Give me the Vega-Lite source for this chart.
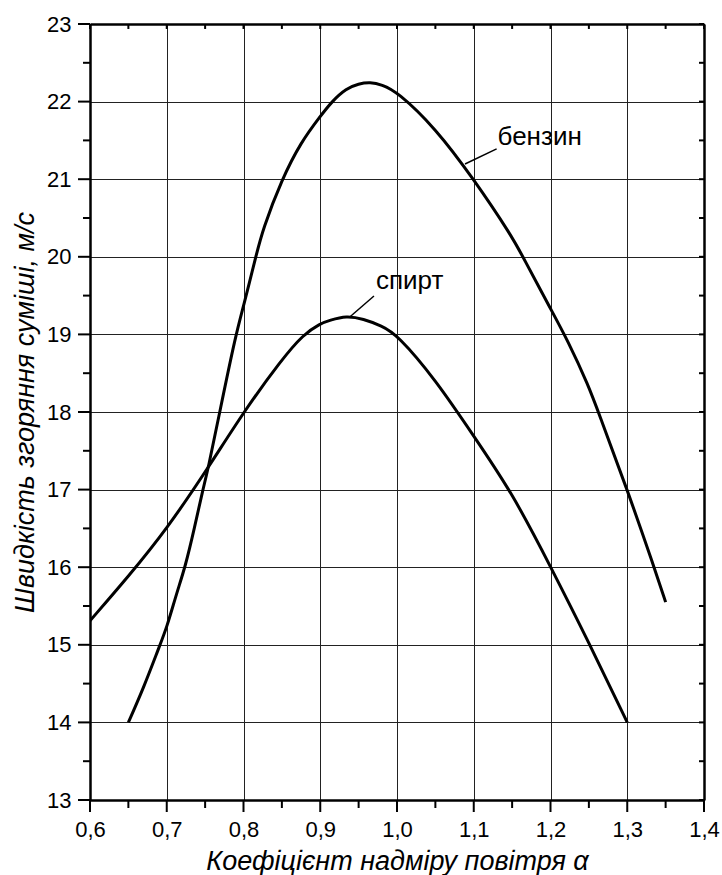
{
  "$schema": "https://vega.github.io/schema/vega-lite/v6.json",
  "width": 614,
  "height": 776,
  "autosize": {"type": "none"},
  "padding": {"left": 90, "top": 24, "right": 18, "bottom": 75},
  "background": "white",
  "config": {
    "font": "Liberation Sans",
    "view": {"stroke": null},
    "axis": {"labelFont": "Liberation Sans", "titleFont": "Liberation Sans"}
  },
  "datasets": {
    "curves": [
      {"fuel": "бензин", "alpha": 0.65, "v": 14.0},
      {"fuel": "бензин", "alpha": 0.67, "v": 14.45},
      {"fuel": "бензин", "alpha": 0.69, "v": 14.97},
      {"fuel": "бензин", "alpha": 0.70, "v": 15.22},
      {"fuel": "бензин", "alpha": 0.713, "v": 15.67},
      {"fuel": "бензин", "alpha": 0.724, "v": 16.0},
      {"fuel": "бензин", "alpha": 0.736, "v": 16.5},
      {"fuel": "бензин", "alpha": 0.747, "v": 17.0},
      {"fuel": "бензин", "alpha": 0.754, "v": 17.27},
      {"fuel": "бензин", "alpha": 0.769, "v": 18.0},
      {"fuel": "бензин", "alpha": 0.79, "v": 19.0},
      {"fuel": "бензин", "alpha": 0.80, "v": 19.36},
      {"fuel": "бензин", "alpha": 0.816, "v": 20.0},
      {"fuel": "бензин", "alpha": 0.825, "v": 20.35},
      {"fuel": "бензин", "alpha": 0.85, "v": 21.0},
      {"fuel": "бензин", "alpha": 0.875, "v": 21.48},
      {"fuel": "бензин", "alpha": 0.90, "v": 21.81},
      {"fuel": "бензин", "alpha": 0.915, "v": 22.0},
      {"fuel": "бензин", "alpha": 0.934, "v": 22.17},
      {"fuel": "бензин", "alpha": 0.95, "v": 22.23},
      {"fuel": "бензин", "alpha": 0.965, "v": 22.25},
      {"fuel": "бензин", "alpha": 0.98, "v": 22.22},
      {"fuel": "бензин", "alpha": 1.0, "v": 22.13},
      {"fuel": "бензин", "alpha": 1.05, "v": 21.66},
      {"fuel": "бензин", "alpha": 1.10, "v": 21.0},
      {"fuel": "бензин", "alpha": 1.15, "v": 20.26},
      {"fuel": "бензин", "alpha": 1.164, "v": 20.0},
      {"fuel": "бензин", "alpha": 1.20, "v": 19.33},
      {"fuel": "бензин", "alpha": 1.222, "v": 18.93},
      {"fuel": "бензин", "alpha": 1.25, "v": 18.33},
      {"fuel": "бензин", "alpha": 1.263, "v": 17.98},
      {"fuel": "бензин", "alpha": 1.30, "v": 17.0},
      {"fuel": "бензин", "alpha": 1.335, "v": 16.0},
      {"fuel": "бензин", "alpha": 1.35, "v": 15.55},
      {"fuel": "спирт", "alpha": 0.60, "v": 15.31},
      {"fuel": "спирт", "alpha": 0.65, "v": 15.88},
      {"fuel": "спирт", "alpha": 0.70, "v": 16.49},
      {"fuel": "спирт", "alpha": 0.754, "v": 17.28},
      {"fuel": "спирт", "alpha": 0.80, "v": 18.0},
      {"fuel": "спирт", "alpha": 0.85, "v": 18.68},
      {"fuel": "спирт", "alpha": 0.878, "v": 19.0},
      {"fuel": "спирт", "alpha": 0.90, "v": 19.14},
      {"fuel": "спирт", "alpha": 0.912, "v": 19.18},
      {"fuel": "спирт", "alpha": 0.934, "v": 19.24},
      {"fuel": "спирт", "alpha": 0.956, "v": 19.2},
      {"fuel": "спирт", "alpha": 0.98, "v": 19.11},
      {"fuel": "спирт", "alpha": 1.0, "v": 19.0},
      {"fuel": "спирт", "alpha": 1.05, "v": 18.42},
      {"fuel": "спирт", "alpha": 1.10, "v": 17.69},
      {"fuel": "спирт", "alpha": 1.15, "v": 16.96},
      {"fuel": "спирт", "alpha": 1.20, "v": 16.01},
      {"fuel": "спирт", "alpha": 1.25, "v": 15.03},
      {"fuel": "спирт", "alpha": 1.30, "v": 14.0}
    ],
    "labels": [
      {"name": "бензин", "tx": 1.131, "ty": 21.44, "x1": 1.0886, "y1": 21.196, "x2": 1.1298, "y2": 21.39},
      {"name": "спирт", "tx": 0.9726, "ty": 19.58, "x1": 0.9388, "y1": 19.228, "x2": 0.970, "y2": 19.495}
    ],
    "xticks": [
      {"a": 0.6, "m": 1}, {"a": 0.65, "m": 0}, {"a": 0.7, "m": 1}, {"a": 0.75, "m": 0},
      {"a": 0.8, "m": 1}, {"a": 0.85, "m": 0}, {"a": 0.9, "m": 1}, {"a": 0.95, "m": 0},
      {"a": 1.0, "m": 1}, {"a": 1.05, "m": 0}, {"a": 1.1, "m": 1}, {"a": 1.15, "m": 0},
      {"a": 1.2, "m": 1}, {"a": 1.25, "m": 0}, {"a": 1.3, "m": 1}, {"a": 1.35, "m": 0},
      {"a": 1.4, "m": 1}
    ],
    "yticks": [
      {"b": 13, "m": 1}, {"b": 13.5, "m": 0}, {"b": 14, "m": 1}, {"b": 14.5, "m": 0},
      {"b": 15, "m": 1}, {"b": 15.5, "m": 0}, {"b": 16, "m": 1}, {"b": 16.5, "m": 0},
      {"b": 17, "m": 1}, {"b": 17.5, "m": 0}, {"b": 18, "m": 1}, {"b": 18.5, "m": 0},
      {"b": 19, "m": 1}, {"b": 19.5, "m": 0}, {"b": 20, "m": 1}, {"b": 20.5, "m": 0},
      {"b": 21, "m": 1}, {"b": 21.5, "m": 0}, {"b": 22, "m": 1}, {"b": 22.5, "m": 0},
      {"b": 23, "m": 1}
    ]
  },
  "resolve": {"axis": {"x": "independent", "y": "independent"}},
  "layer": [
    {
      "data": {"name": "xticks"},
      "transform": [{"filter": "datum.m == 1"}],
      "mark": {"type": "rule", "stroke": "black", "strokeWidth": 2},
      "encoding": {
        "x": {"field": "a", "type": "quantitative", "axis": null},
        "y": {"datum": 12.845, "type": "quantitative", "axis": null},
        "y2": {"datum": 13}
      }
    },
    {
      "data": {"name": "xticks"},
      "transform": [{"filter": "datum.m == 0"}],
      "mark": {"type": "rule", "stroke": "black", "strokeWidth": 2},
      "encoding": {
        "x": {"field": "a", "type": "quantitative", "axis": null},
        "y": {"datum": 12.897, "type": "quantitative", "axis": null},
        "y2": {"datum": 13}
      }
    },
    {
      "data": {"name": "xticks"},
      "mark": {"type": "rule", "stroke": "black", "strokeWidth": 2},
      "encoding": {
        "x": {"field": "a", "type": "quantitative", "axis": null},
        "y": {"datum": 22.936, "type": "quantitative", "axis": null},
        "y2": {"datum": 23}
      }
    },
    {
      "data": {"name": "yticks"},
      "transform": [{"filter": "datum.m == 1"}],
      "mark": {"type": "rule", "stroke": "black", "strokeWidth": 2},
      "encoding": {
        "y": {"field": "b", "type": "quantitative", "axis": null},
        "x": {"datum": 0.5844, "type": "quantitative", "axis": null},
        "x2": {"datum": 0.6}
      }
    },
    {
      "data": {"name": "yticks"},
      "transform": [{"filter": "datum.m == 0"}],
      "mark": {"type": "rule", "stroke": "black", "strokeWidth": 2},
      "encoding": {
        "y": {"field": "b", "type": "quantitative", "axis": null},
        "x": {"datum": 0.5909, "type": "quantitative", "axis": null},
        "x2": {"datum": 0.6}
      }
    },
    {
      "data": {"name": "yticks"},
      "mark": {"type": "rule", "stroke": "black", "strokeWidth": 2},
      "encoding": {
        "y": {"field": "b", "type": "quantitative", "axis": null},
        "x": {"datum": 1.3935, "type": "quantitative", "axis": null},
        "x2": {"datum": 1.4}
      }
    },
    {
      "data": {"name": "curves"},
      "mark": {"type": "line", "interpolate": "basis", "stroke": "black", "strokeWidth": 3, "clip": true},
      "encoding": {
        "x": {
          "field": "alpha", "type": "quantitative",
          "scale": {"domain": [0.6, 1.4], "nice": false, "zero": false},
          "axis": {
            "orient": "bottom",
            "values": [0.6, 0.7, 0.8, 0.9, 1.0, 1.1, 1.2, 1.3, 1.4],
            "labelExpr": "replace(format(datum.value, '.1f'), '.', ',')",
            "labelFontSize": 22, "labelColor": "black", "labelPadding": 19,
            "labelOverlap": false, "labelFlush": false, "labelBound": false,
            "ticks": false,
            "domainColor": "black", "domainWidth": 2.5,
            "grid": true, "gridColor": "#222", "gridWidth": 1,
            "title": "Коефіцієнт надміру повітря α",
            "titleFontSize": 27, "titleFontStyle": "italic", "titleFontWeight": "normal", "titleColor": "black",
            "titleY": 69, "titleBaseline": "alphabetic"
          }
        },
        "y": {
          "field": "v", "type": "quantitative",
          "scale": {"domain": [13, 23], "nice": false, "zero": false},
          "axis": {
            "orient": "left",
            "values": [13, 14, 15, 16, 17, 18, 19, 20, 21, 22, 23],
            "format": "d",
            "labelFontSize": 22, "labelColor": "black", "labelPadding": 19,
            "labelOverlap": false, "labelFlush": false, "labelBound": false,
            "ticks": false,
            "domainColor": "black", "domainWidth": 2.5,
            "grid": true, "gridColor": "#222", "gridWidth": 1,
            "title": "Швидкість згоряння суміші, м/с",
            "titleFontSize": 27, "titleFontStyle": "italic", "titleFontWeight": "normal", "titleColor": "black",
            "titleAngle": -90, "titleX": -57, "titleBaseline": "alphabetic"
          }
        },
        "detail": {"field": "fuel", "type": "nominal"}
      }
    },
    {
      "data": {"name": "labels"},
      "mark": {"type": "rule", "stroke": "black", "strokeWidth": 1.5},
      "encoding": {
        "x": {"field": "x1", "type": "quantitative", "axis": null},
        "y": {"field": "y1", "type": "quantitative", "axis": null},
        "x2": {"field": "x2"},
        "y2": {"field": "y2"}
      }
    },
    {
      "data": {"name": "labels"},
      "mark": {"type": "text", "align": "left", "baseline": "alphabetic", "fontSize": 26, "font": "Liberation Sans", "color": "black"},
      "encoding": {
        "x": {"field": "tx", "type": "quantitative", "axis": null},
        "y": {"field": "ty", "type": "quantitative", "axis": null},
        "text": {"field": "name"}
      }
    },
    {
      "data": {"name": "labels"},
      "mark": {"type": "point", "opacity": 0},
      "encoding": {
        "x": {
          "field": "tx", "type": "quantitative",
          "axis": {"orient": "top", "labels": false, "title": null, "grid": false, "ticks": false, "domainColor": "black", "domainWidth": 2.5}
        },
        "y": {
          "field": "ty", "type": "quantitative",
          "axis": {"orient": "right", "labels": false, "title": null, "grid": false, "ticks": false, "domainColor": "black", "domainWidth": 2.5}
        }
      }
    }
  ]
}
